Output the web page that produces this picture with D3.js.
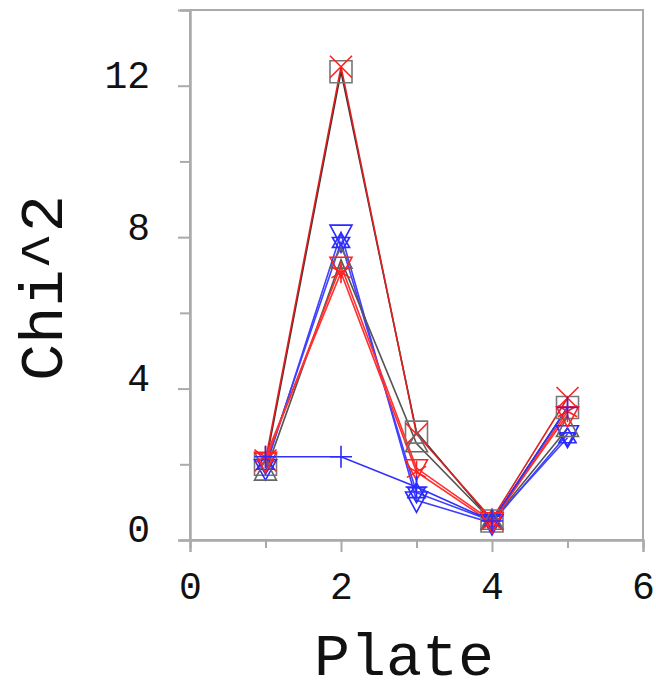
<!DOCTYPE html>
<html>
<head>
<meta charset="utf-8">
<script src="https://cdn.jsdelivr.net/npm/d3@7"></script>
<style>
  body { margin: 0; background: #fff; }
  text { font-family: "Courier New", "Liberation Mono", monospace; fill: #111; }
</style>
</head>
<body>
<script>
// plate numbers on the x axis
var plates = [1, 2, 3, 4, 5];

// chi^2 per plate, one array per run
var sqGray   = [2.0, 12.37, 2.85, 0.50, 3.50];
var xRed     = [2.1, 12.50, 2.80, 0.55, 3.75];
var triDnBlu = [1.9, 8.10, 1.05, 0.45, 2.80];
var starBlu  = [2.0, 7.86, 1.25, 0.50, 2.70];
var triUpGry = [1.8, 7.40, 2.55, 0.50, 2.95];
var triDnRed = [2.1, 7.25, 1.90, 0.50, 3.30];
var astRed   = [2.2, 7.07, 1.80, 0.45, 3.40];
var plusBlu  = [2.2, 2.20, 1.40, 0.50, 3.50];

var xTicks = [0, 2, 4, 6];
var xMinor = [1, 3, 5];
var yTicks = [0, 4, 8, 12];
var yMinor = [2, 6, 10, 14];

var runs = [
  {v: sqGray,   c: "#777", line: "#333", m: "square"},
  {v: xRed,     c: "#ff2020", line: "#e02020", m: "cross"},
  {v: triDnBlu, c: "#2a2aff", line: "#4040ff", m: "tridown"},
  {v: starBlu,  c: "#2a2aff", line: "#4040ff", m: "star"},
  {v: triUpGry, c: "#666", line: "#555", m: "triup"},
  {v: triDnRed, c: "#ff2020", line: "#ff3030", m: "tridown"},
  {v: astRed,   c: "#ff2020", line: "#ff3030", m: "asterisk"},
  {v: plusBlu,  c: "#2a2aff", line: "#3030ff", m: "plus"}
];

var W = 656, H = 693;
var padL = 190, padR = 643, padT = 10, padB = 540;

var x = d3.scaleLinear().domain([0, 6]).range([padL, padR]);
var y = d3.scaleLinear().domain([0, 14]).range([padB, padT]);

var svg = d3.select("body").append("svg").attr("width", W).attr("height", H);

var axisCol = "#aaa";
// frame
svg.append("rect")
  .attr("x", padL).attr("y", padT)
  .attr("width", padR - padL).attr("height", padB - padT)
  .attr("fill", "none").attr("stroke", axisCol).attr("stroke-width", 2);

var gx = svg.append("g").attr("transform", "translate(0," + padB + ")")
  .call(d3.axisBottom(x).tickValues(xTicks).tickSize(12).tickPadding(20).tickFormat(d3.format("d")));
var gxm = svg.append("g").attr("transform", "translate(0," + padB + ")")
  .call(d3.axisBottom(x).tickValues(xMinor).tickSize(8).tickFormat(""));
var gy = svg.append("g").attr("transform", "translate(" + padL + ",0)")
  .call(d3.axisLeft(y).tickValues(yTicks).tickSize(12).tickPadding(28).tickFormat(d3.format("d")));
var gym = svg.append("g").attr("transform", "translate(" + padL + ",0)")
  .call(d3.axisLeft(y).tickValues(yMinor).tickSize(10).tickFormat(""));

[gx, gxm, gy, gym].forEach(function (g) {
  g.select(".domain").attr("stroke", axisCol).attr("stroke-width", 2);
  g.selectAll(".tick line").attr("stroke", axisCol).attr("stroke-width", 2);
  g.selectAll("text").style("font-size", "38px").attr("fill", "#111")
    .style("font-family", '"Courier New", "Liberation Mono", monospace');
});
gy.selectAll("text").attr("dy", "0.05em");

svg.append("text").attr("x", 404).attr("y", 675)
  .attr("text-anchor", "middle").style("font-size", "60px").text("Plate");
svg.append("text").attr("transform", "translate(62,288) rotate(-90)")
  .attr("text-anchor", "middle").style("font-size", "62px").text("Chi^2");

var line = d3.line().x(function (d, i) { return x(plates[i]); }).y(function (d) { return y(d); });

var plot = svg.append("g");
runs.forEach(function (r) {
  plot.append("path").datum(r.v).attr("d", line)
    .attr("fill", "none").attr("stroke", r.line).attr("stroke-width", 1.6);
});

var s = 11;
function marker(m) {
  switch (m) {
    case "square": return "M" + -s + "," + -s + "H" + s + "V" + s + "H" + -s + "Z";
    case "cross": return "M" + -s + "," + -s + "L" + s + "," + s + "M" + -s + "," + s + "L" + s + "," + -s;
    case "plus": return "M" + -s + ",0H" + s + "M0," + -s + "V" + s;
    case "tridown": return "M" + -s + "," + -s * 0.75 + "H" + s + "L0," + s * 1.1 + "Z";
    case "triup": return "M" + -s + "," + s * 0.75 + "H" + s + "L0," + -s * 1.1 + "Z";
    case "asterisk":
      return "M0," + -s + "V" + s + "M" + -s * 0.87 + "," + -s * 0.5 + "L" + s * 0.87 + "," + s * 0.5 +
        "M" + -s * 0.87 + "," + s * 0.5 + "L" + s * 0.87 + "," + -s * 0.5;
    case "star":
      var p = [];
      for (var k = 0; k < 6; k++) {
        var a = Math.PI / 3 * k - Math.PI / 2;
        p.push([Math.cos(a) * s * 0.9, Math.sin(a) * s * 0.9]);
      }
      return "M" + p[0] + "L" + p[2] + "L" + p[4] + "Z M" + p[1] + "L" + p[3] + "L" + p[5] + "Z";
  }
}

runs.forEach(function (r) {
  plot.selectAll(null).data(r.v).enter().append("path")
    .attr("transform", function (d, i) { return "translate(" + x(plates[i]) + "," + y(d) + ")"; })
    .attr("d", marker(r.m))
    .attr("fill", "none").attr("stroke", r.c).attr("stroke-width", 1.6);
});
</script>
</body>
</html>
